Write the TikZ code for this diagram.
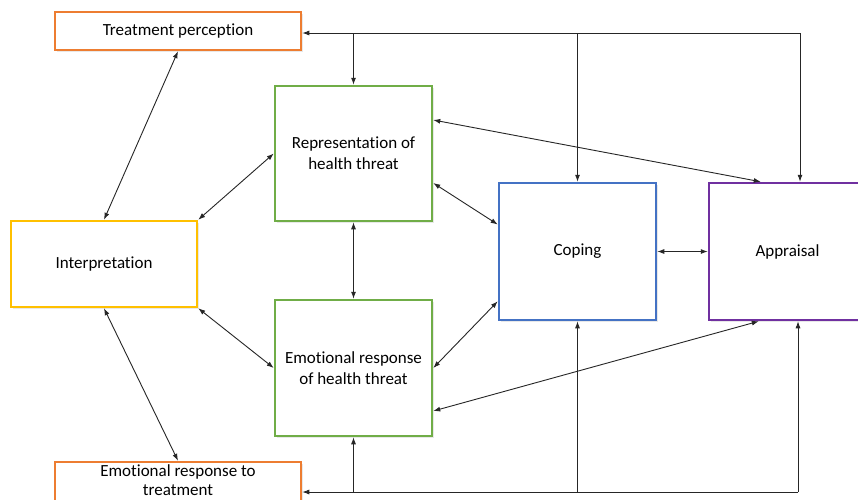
\documentclass[tikz,border=0pt]{standalone}
\usepackage{fontspec}
\setmainfont{Carlito}[Ligatures={NoCommon}]
\usetikzlibrary{arrows.meta,calc,shadows}
\definecolor{cOrange}{HTML}{ED7D31}
\definecolor{cGold}{HTML}{FFC000}
\definecolor{cGreen}{HTML}{70AD47}
\definecolor{cBlue}{HTML}{4472C4}
\definecolor{cPurple}{HTML}{7030A0}
\definecolor{cLine}{HTML}{262626}
\begin{document}
\begin{tikzpicture}[x=1pt,y=-1pt,
  box/.style={draw, line width=2.5pt, fill=white, inner sep=0pt, align=center,
    font=\fontsize{17}{21}\selectfont,
    drop shadow={opacity=0.18, shadow xshift=1.5pt, shadow yshift=-1.5pt}},
  caption/.style={inner sep=0pt, align=center, font=\fontsize{17}{19}\selectfont},
  tip/.tip={Latex[length=7pt,width=5pt]},
  link/.style={line width=0.9pt, draw=cLine, tip-tip},
  feed/.style={line width=0.9pt, draw=cLine, -tip},
]
\clip (0,0) rectangle (858,499);
\fill[white] (0,0) rectangle (858,499);

% boxes
\node[box, draw=cOrange, minimum width=246pt, minimum height=38pt] (tp) at (178,31) {Treatment perception};
\node[box, draw=cOrange, minimum width=246pt, minimum height=50pt] (ert) at (178,487) {};
\node[caption, anchor=north] (ertText) at ($(ert.north)+(0,3.5)$) {Emotional response to\\treatment};
\node[box, draw=cGold, minimum width=186pt, minimum height=86pt] (interp) at (104,264) {Interpretation};
\node[box, draw=cGreen, minimum width=157pt, minimum height=135pt] (rep) at (353.5,153.5) {Representation of\\health threat};
\node[box, draw=cGreen, minimum width=157pt, minimum height=136pt] (emo) at (353.5,368) {Emotional response\\of health threat};
\node[box, draw=cBlue, minimum width=157pt, minimum height=137pt] (cop) at (577.5,251.5) {Coping};
\node[box, draw=cPurple, minimum width=157pt, minimum height=137pt] (app) at (787.5,251.5) {Appraisal};

% feedback along the top
\coordinate (tr) at (800,33);
\draw[feed] (tr) -- (tr -| tp.east);
\draw[feed] (tr -| rep.north) -- (rep.north);
\draw[feed] (tr -| cop.north) -- (cop.north);
\draw[feed] (tr) -- (tr |- app.north);

% feedback along the bottom
\coordinate (br) at (798,492);
\draw[feed] (br) -- (br -| ert.east);
\draw[feed] (br -| emo.south) -- (emo.south);
\draw[feed] (br -| cop.south) -- (cop.south);
\draw[feed] (br) -- (br |- app.south);

% two-way links
\draw[link] (interp.north) -- (tp.south);
\draw[link] (interp.south) -- (ert.north);
\draw[link] (interp.north east) -- (rep.west);
\draw[link] (interp.south east) -- (emo.west);
\draw[link] (rep.south) -- (emo.north);
\draw[link] ($(rep.east)+(0,29.5)$) -- ($(cop.west)+(0,-27)$);
\draw[link] ($(rep.east)+(0,-33.5)$) -- ($(app.north west)+(53,0)$);
\draw[link] (emo.east) -- ($(cop.south west)+(0,-20)$);
\draw[link] ($(emo.east)+(0,43)$) -- ($(app.south west)+(51,0)$);
\draw[link] (cop.east) -- (app.west);
\end{tikzpicture}
\end{document}
